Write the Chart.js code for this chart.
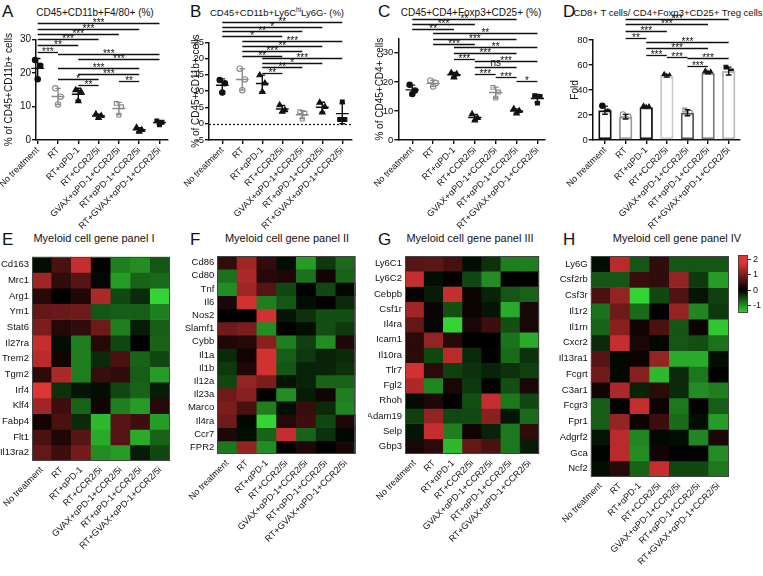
<!DOCTYPE html>
<html><head><meta charset="utf-8">
<script src="https://cdn.jsdelivr.net/npm/chart.js@4.4.1/dist/chart.umd.min.js"></script>
<style>
html,body{margin:0;padding:0;background:#fff;}
body{width:763px;height:576px;position:relative;overflow:hidden;font-family:'Liberation Sans',Arial,sans-serif;color:#111;}
canvas{position:absolute;}
.lt{position:absolute;font-size:17px;line-height:17px;}
.tt{position:absolute;white-space:nowrap;width:240px;margin-left:-120px;text-align:center;line-height:1;}
.tt sup{font-size:6.5px;vertical-align:4px;line-height:0;}
</style></head>
<body>
<div class="lt" style="left:2px;top:3px">A</div>
<div class="lt" style="left:190px;top:3px">B</div>
<div class="lt" style="left:378px;top:3px">C</div>
<div class="lt" style="left:563px;top:3px">D</div>
<div class="lt" style="left:2px;top:231px">E</div>
<div class="lt" style="left:190px;top:231px">F</div>
<div class="lt" style="left:378px;top:231px">G</div>
<div class="lt" style="left:563px;top:231px">H</div>

<div class="tt" style="left:95px;top:8px;font-size:10px">CD45+CD11b+F4/80+ (%)</div>
<div class="tt" style="left:277px;top:8px;font-size:9.5px">CD45+CD11b+Ly6C<sup>hi</sup>Ly6G- (%)</div>
<div class="tt" style="left:471px;top:8px;font-size:10px">CD45+CD4+Foxp3+CD25+ (%)</div>
<div class="tt" style="left:668px;top:8px;font-size:9.5px">CD8+ T cells/ CD4+Foxp3+CD25+ Treg cells</div>

<div class="tt" style="left:94px;top:233px;font-size:11px">Myeloid cell gene panel I</div>
<div class="tt" style="left:287px;top:233px;font-size:11px">Myeloid cell gene panel II</div>
<div class="tt" style="left:470px;top:233px;font-size:11px">Myeloid cell gene panel III</div>
<div class="tt" style="left:677px;top:233px;font-size:11px">Myeloid cell gene panel IV</div>

<canvas id="cA" width="190" height="240" style="left:0px;top:0px"></canvas>
<canvas id="cB" width="185" height="240" style="left:175px;top:0px"></canvas>
<canvas id="cC" width="185" height="240" style="left:365px;top:0px"></canvas>
<canvas id="cD" width="208" height="240" style="left:555px;top:0px"></canvas>
<canvas id="cE" width="185" height="326" style="left:0px;top:250px"></canvas>
<canvas id="cF" width="185" height="326" style="left:180px;top:250px"></canvas>
<canvas id="cG" width="180" height="326" style="left:368px;top:250px"></canvas>
<canvas id="cH" width="180" height="326" style="left:553px;top:250px"></canvas>
<canvas id="cBar" width="30" height="70" style="left:733px;top:250px"></canvas>

<script>
// ---------------- DATA ----------------
const groups = ['No treatment','RT','RT+αPD-1','RT+CCR2/5i','GVAX+αPD-1+CCR2/5i','RT+αPD-1+CCR2/5i','RT+GVAX+αPD-1+CCR2/5i'];

// A: CD45+CD11b+F4/80+ (%)
const f480Values = [[23.8,22.1,18.1],[15.4,12.9,10.6],[14.9,14.4,11.6],[7.7,7.2,6.6],[10.9,9.9,7.4],[3.7,3.0,2.5],[5.7,5.3,4.5]];
const f480Ticks = [0,10,20,30];
const f480Sig = [[0,6,35.0,'***'],[0,5,33.0,'***'],[0,4,31.5,'***'],[0,3,30.0,'***'],[0,2,28.3,'**'],[0,1,26.3,'***'],[1,6,25.6,'***'],[2,6,24.0,'***'],[1,5,21.5,'***'],[2,5,19.6,'***'],[1,3,18.1,'*'],[4,5,17.6,'**'],[2,3,16.4,'**']];

// B: CD45+CD11b+Ly6Chi Ly6G- (%)
const ly6cValues = [[13.4,12.4,9.6],[16.9,13.6,10.3],[14.9,12.4,9.8],[5.7,4.2,3.7],[3.7,3.2,1.4],[6.5,5.2,3.5],[1.3,1.3,6.7]];
const ly6cTicks = [-5,0,5,10,15,20,25];
const ly6cSig = [[0,6,31.2,'**'],[0,5,29.7,'*'],[0,4,28.4,'**'],[0,3,26.9,'*'],[1,6,25.4,'***'],[1,5,23.9,'**'],[1,4,22.3,'***'],[1,3,20.8,'**'],[2,6,20.3,'***'],[2,5,18.7,'*'],[2,4,17.3,'**'],[2,3,15.7,'**']];

// C: CD45+CD4+Foxp3+CD25+ (%)
const tregValues = [[19.0,17.0,15.8],[20.5,19.6,18.4],[23.1,22.7,21.6],[8.9,7.6,6.8],[18.1,16.5,14.4],[10.7,10.0,9.2],[15.2,15.0,12.7]];
const tregTicks = [0,10,20,30];
const tregSig = [[0,5,41.8,'**'],[0,3,40.0,'***'],[0,2,38.1,'**'],[1,6,36.9,'**'],[1,5,34.8,'***'],[1,3,32.9,'***'],[2,6,31.9,'**'],[2,5,30.0,'***'],[2,3,27.9,'***'],[3,6,27.3,'***'],[3,5,25.2,'ns'],[3,4,22.8,'***'],[4,5,21.7,'***'],[5,6,20.2,'*']];

// D: CD8+ T cells / Treg cells (fold)
const foldValues = [[27.5,22.7,21.3],[20.5,18.7,16.8],[26.7,26.2,25.7],[52.0,51.0,50.5],[24.0,22.1,19.2],[54.7,53.9,53.1],[58.3,55.2,52.0]];
const foldTicks = [0,20,40,60,80];
const foldSig = [[1,6,96.6,'***'],[1,5,92.6,'***'],[1,3,87.2,'***'],[1,2,81.8,'**'],[2,6,78.2,'***'],[2,5,73.4,'***'],[2,3,68.0,'***'],[3,4,66.2,'***'],[4,6,65.4,'***'],[4,5,59.4,'***']];

// Heatmaps (z-scores)
const panel1Genes = ['Cd163','Mrc1','Arg1','Ym1','Stat6','Il27ra','Trem2','Tgm2','Irf4','Klf4','Fabp4','Flt1','Il13ra2'];
const panel1Values = [
[-0.1,0.6,1.6,0.05,-0.9,-1.0,-0.6],
[1.3,0.4,0.7,-0.05,-1.1,-0.7,-0.75],
[0.3,0,0.25,1.4,-0.5,-0.3,-1.5],
[0.8,0.85,0.9,-0.6,-0.65,-0.65,-0.9],
[1.0,0.3,0.4,0.9,-0.9,-0.2,-0.65],
[1.6,-0.1,-0.9,0.3,-0.5,0,-0.7],
[1.5,0.15,-0.9,-0.3,0.6,-0.7,-0.5],
[0.35,1.4,-0.9,0.45,0.4,-0.65,-1.1],
[1.8,-0.35,-0.15,-0.1,-0.5,-0.7,-0.2],
[1.3,0.5,-0.7,0.15,-0.9,-1.1,0.3],
[0.15,0.6,-0.3,-1.3,0.7,0.5,-1.1],
[0.6,0.25,0.7,-1.2,0.7,-1.2,-0.7],
[0.8,0.5,0.95,-1.0,-1.1,-0.2,-0.5]];

const panel2Genes = ['Cd86','Cd80','Tnf','Il6','Nos2','Slamf1','Cybb','Il1a','Il1b','Il12a','Il23a','Marco','Il4ra','Ccr7','FPR2'];
const panel2Values = [
[0.4,1.3,0.4,-0.1,-1.1,-0.4,-0.75],
[-0.8,1.4,0.3,0.25,-0.8,0.15,-0.7],
[-1.0,1.3,0.7,-0.5,0,-0.5,-0.05],
[0.2,1.7,-0.9,-0.6,-0.1,0.05,-0.3],
[0,0,1.7,-0.15,-0.35,-0.55,-0.55],
[0.9,1.0,-1.0,0,-0.1,-0.55,-0.4],
[0.25,0.3,1.1,-0.9,-0.45,-1.0,0.25],
[-0.3,0.15,1.7,-0.65,-0.4,-0.25,-0.3],
[-0.4,0.25,1.7,-0.6,-0.25,-0.25,-0.35],
[-0.5,1.2,1.0,-0.15,-0.25,-0.7,-0.7],
[0.9,1.1,0,-1.0,-0.2,0.15,-0.9],
[1.0,0.6,-0.9,-0.1,0.45,-0.3,-0.95],
[0.9,-0.05,-1.5,0.3,0.5,-0.5,0.25],
[0.25,-0.1,-0.7,1.6,-0.7,-0.35,-0.05],
[-0.85,1.2,-1.0,0.05,0.25,0,0.2]];

const panel3Genes = ['Ly6C1','Ly6C2','Cebpb','Csf1r','Il4ra','Icam1','Il10ra','Tlr7','Fgl2','Rhoh','Adam19','Selp','Gbp3'];
const panel3Values = [
[0.7,0.75,0.55,-0.1,-0.35,-0.9,-0.9],
[1.6,-0.1,0.05,-0.5,-1.0,0,0.05],
[0.05,-0.2,1.6,0.1,-0.25,-0.6,-0.7],
[1.3,0.1,-0.55,0.1,-0.15,-1.2,0.2],
[0.8,-0.05,-1.5,0.2,0.5,-0.55,0.2],
[0.35,1.2,0.3,0,0,-0.8,-1.2],
[0.35,-0.5,1.5,-0.3,-0.02,-0.75,-0.35],
[1.7,0.35,-0.45,-0.35,-0.25,-0.35,-0.45],
[1.4,-0.95,0.2,-0.4,-0.02,-0.55,0.2],
[-0.08,0.25,0,-0.55,1.6,-0.85,-0.5],
[-0.45,1.2,-0.5,-0.5,1.1,-0.15,-0.75],
[-0.15,1.6,-0.9,0.15,-0.25,-0.85,0.4],
[0.2,0.35,-1.3,0.8,0.6,-0.85,-0.2]];

const panel4Genes = ['Ly6G','Csf2rb','Csf3r','Il1r2','Il1rn','Cxcr2','Il13ra1','Fcgrt','C3ar1','Fcgr3','Fpr1','Adgrf2','Gca','Ncf2'];
const panel4Values = [
[-0.1,1.5,-0.6,0.4,-0.6,-0.6,-0.6],
[-0.6,-0.6,0.45,0.4,1.2,-0.4,-1.1],
[0.6,1.2,-1.5,-0.5,0.65,-0.15,-0.45],
[-0.8,0.9,-0.75,0,1.2,-0.95,-0.4],
[-0.7,1.1,0.15,0.6,-0.6,0.1,-1.4],
[-0.3,1.6,0.2,-0.05,-0.6,-0.55,-0.8],
[0.7,-0.05,0.1,1.2,-1.2,-1.2,-0.1],
[0.9,-0.05,1.1,-1.3,-0.3,-0.85,0],
[0.15,1.4,-0.25,0.35,-0.3,-1.0,-0.9],
[-0.65,0,1.6,0.1,-0.85,0.05,-0.65],
[-0.65,1.2,0.1,0.5,-0.75,-0.1,-1.1],
[-0.15,1.5,-0.95,-0.05,-0.1,-0.95,0.2],
[-0.02,1.5,-1.0,0.15,0.02,-0.02,-1.0],
[-0.1,0.3,-0.7,1.6,-0.5,-0.5,-0.85]];

const colorbarRange = [-1.5, 2.3];
const colorbarTicks = [-1,0,1,2];

// ---------------- STYLE ----------------
const FONT = "'Liberation Sans', Arial, sans-serif";
Chart.defaults.font.family = FONT;
Chart.defaults.color = '#111';

const groupMarker = ['circle','circle','triangle','triangle','rect','triangle','rect'];
const groupOpen = [false,true,false,false,true,false,false];
const groupColor = ['#111','#8a8a8a','#111','#111','#8a8a8a','#111','#111'];
const barEdge = ['#111','#9a9a9a','#222','#cacaca','#5a5a5a','#7a7a7a','#b8b8b8'];
const jitter = [-0.13, 0.13, 0];

const mean = a => a.reduce((s, v) => s + v, 0) / a.length;
const stdev = a => { const m = mean(a); return Math.sqrt(a.reduce((s, v) => s + (v - m) * (v - m), 0) / (a.length - 1)); };

function heatColor(v) {
  if (v >= 0) { const t = Math.min(v / 1.8, 1); return `rgb(${Math.round(222*t)},${Math.round(52*t)},${Math.round(52*t)})`; }
  const t = Math.min(-v / 1.5, 1); return `rgb(${Math.round(52*t)},${Math.round(212*t)},${Math.round(52*t)})`;
}

function prismPlugin(cfg) {
  return {
    id: 'prism' + cfg.id,
    beforeDatasetsDraw(chart) {
      if (!cfg.zeroLine) return;
      const {ctx, chartArea: a, scales: {y}} = chart;
      const yy = Math.round(y.getPixelForValue(0)) + 0.5;
      ctx.save(); ctx.strokeStyle = '#111'; ctx.lineWidth = 1.2; ctx.setLineDash([2, 2]);
      ctx.beginPath(); ctx.moveTo(a.left, yy); ctx.lineTo(a.right, yy); ctx.stroke(); ctx.restore();
    },
    afterDatasetsDraw(chart) {
      const {ctx, scales: {x, y}} = chart;
      ctx.save();
      cfg.values.forEach((vals, i) => {
        const m = mean(vals), s = stdev(vals);
        const cx = x.getPixelForValue(i);
        const hw = x.getPixelForValue(i + 0.32) - cx;
        const cw = x.getPixelForValue(i + 0.14) - cx;
        const ym = y.getPixelForValue(m), yt = y.getPixelForValue(m + s), yb = y.getPixelForValue(m - s);
        ctx.strokeStyle = cfg.bars ? '#111' : groupColor[i];
        ctx.lineWidth = 1.4;
        ctx.beginPath();
        if (!cfg.bars) { ctx.moveTo(cx - hw, ym); ctx.lineTo(cx + hw, ym); }
        ctx.moveTo(cx, yt); ctx.lineTo(cx, yb);
        ctx.moveTo(cx - cw, yt); ctx.lineTo(cx + cw, yt);
        ctx.moveTo(cx - cw, yb); ctx.lineTo(cx + cw, yb);
        ctx.stroke();
      });
      ctx.strokeStyle = '#111'; ctx.fillStyle = '#111'; ctx.lineWidth = 1.3;
      ctx.font = '10px ' + FONT; ctx.textAlign = 'center'; ctx.textBaseline = 'alphabetic';
      cfg.sig.forEach(([a, b, v, lab]) => {
        const yy = Math.round(y.getPixelForValue(v)) + 0.5;
        const x1 = x.getPixelForValue(a), x2 = x.getPixelForValue(b);
        ctx.beginPath(); ctx.moveTo(x1, yy); ctx.lineTo(x2, yy); ctx.stroke();
        ctx.fillText(lab, (x1 + x2) / 2, lab.includes('*') ? yy + 2.8 : yy - 1.5);
      });
      ctx.restore();
    }
  };
}

function dotPanel(cfg) {
  const ds = cfg.values.map((vals, i) => ({
    type: 'scatter', clip: false,
    data: vals.map((v, j) => ({x: i + jitter[j], y: v})),
    pointStyle: groupMarker[i],
    pointRadius: groupMarker[i] === 'triangle' ? 3.2 : 2.7,
    pointBackgroundColor: groupOpen[i] ? '#fff' : groupColor[i],
    pointBorderColor: groupColor[i],
    pointBorderWidth: 1.1,
    showLine: false
  }));
  if (cfg.bars) ds.unshift({
    type: 'bar',
    data: cfg.values.map((v, i) => ({x: i, y: mean(v)})),
    backgroundColor: '#fff', borderColor: barEdge, borderWidth: 2, borderSkipped: false,
    barPercentage: 0.65, categoryPercentage: 1
  });
  return new Chart(document.getElementById(cfg.id), {
    type: cfg.bars ? 'bar' : 'scatter',
    data: {datasets: ds},
    options: {
      responsive: false, animation: false, events: [],
      layout: {padding: {top: cfg.padTop, right: cfg.padRight, left: cfg.padLeft, bottom: 0}},
      plugins: {legend: {display: false}, tooltip: {enabled: false}},
      scales: {
        x: {
          type: 'linear', min: cfg.xMin, max: cfg.xMax, offset: false,
          afterBuildTicks: s => { s.ticks = groups.map((g, i) => ({value: i})); },
          afterFit: s => { s.height = 100; s.paddingLeft = 0; s.paddingRight = 0; },
          ticks: {autoSkip: false, minRotation: 45, maxRotation: 45, padding: 1, font: {size: 9}, callback: (v, i) => groups[i]},
          grid: {display: true, offset: false, drawOnChartArea: false, drawTicks: true, tickLength: 4, color: '#111', lineWidth: 1.4},
          border: {display: true, color: '#111', width: 1.5}
        },
        y: {
          type: 'linear', min: cfg.ticks[0], max: cfg.yMax,
          afterBuildTicks: s => { s.ticks = cfg.ticks.map(v => ({value: v})); },
          afterFit: s => { s.width = cfg.yWidth; s.paddingTop = 0; s.paddingBottom = 0; },
          title: {display: true, text: cfg.yTitle, color: '#111', font: {size: 10}, padding: {top: 0, bottom: 0}},
          ticks: {padding: 1, font: {size: cfg.tickSize || 10}, color: '#111', autoSkip: false, callback: (v, i) => String(cfg.ticks[i])},
          grid: {display: true, drawOnChartArea: false, drawTicks: true, tickLength: 4, color: '#111', lineWidth: 1.4},
          border: {display: true, color: '#111', width: 1.5}
        }
      }
    },
    plugins: [prismPlugin(cfg)]
  });
}

const framePlugin = {
  id: 'frame',
  afterDatasetsDraw(chart) {
    const {ctx, chartArea: a} = chart;
    ctx.save(); ctx.strokeStyle = '#444'; ctx.lineWidth = 1;
    ctx.strokeRect(Math.round(a.left) + 0.5, Math.round(a.top) + 0.5, Math.round(a.right - a.left) - 1, Math.round(a.bottom - a.top) - 1);
    ctx.restore();
  }
};

function heatPanel(id, genes, values, g) {
  return new Chart(document.getElementById(id), {
    type: 'bar',
    data: {
      labels: groups,
      datasets: genes.map((gn, r) => ({
        label: gn,
        data: groups.map(() => 1),
        backgroundColor: values[r].map(heatColor),
        borderWidth: 0, barPercentage: 1, categoryPercentage: 1
      }))
    },
    options: {
      responsive: false, animation: false, events: [],
      layout: {padding: {top: g.padTop, right: g.padRight, left: 0, bottom: 0}},
      plugins: {legend: {display: false}, tooltip: {enabled: false}},
      scales: {
        x: {
          stacked: true,
          afterFit: s => { s.height = g.xHeight; s.paddingLeft = 0; s.paddingRight = 0; },
          ticks: {autoSkip: false, minRotation: 45, maxRotation: 45, padding: 4, font: {size: 9}},
          grid: {display: false, drawTicks: false}, border: {display: false}
        },
        y: {
          stacked: true, reverse: true, min: 0, max: genes.length,
          afterBuildTicks: s => { s.ticks = genes.map((_, i) => ({value: i + 0.5})); },
          afterFit: s => { s.width = g.yWidth; s.paddingTop = 0; s.paddingBottom = 0; },
          ticks: {autoSkip: false, padding: 3, font: {size: 9.5}, callback: (v, i) => genes[i]},
          grid: {display: false, drawTicks: false}, border: {display: false}
        }
      }
    },
    plugins: [framePlugin]
  });
}

// ---------------- CHARTS ----------------
dotPanel({id: 'cA', values: f480Values, ticks: f480Ticks, sig: f480Sig, yTitle: '% of CD45+CD11b+ cells', yMax: 30, padLeft: 3, yWidth: 33, padTop: 39.3, padRight: 22, xMin: -0.083, xMax: 6.42});
dotPanel({id: 'cB', values: ly6cValues, ticks: ly6cTicks, sig: ly6cSig, yTitle: '% of CD45+CD11b+ cells', yMax: 25, padLeft: 15, yWidth: 19, padTop: 42.3, padRight: 8, xMin: -0.665, xMax: 6.485, zeroLine: true, tickSize: 9.5});
dotPanel({id: 'cC', values: tregValues, ticks: tregTicks, sig: tregSig, yTitle: '% of CD45+CD4+ cells', yMax: 35, padLeft: 9, yWidth: 24.3, padTop: 38.3, padRight: 5, xMin: -0.671, xMax: 6.36, tickSize: 9.5});
dotPanel({id: 'cD', values: foldValues, ticks: foldTicks, sig: foldSig, yTitle: 'Fold', yMax: 80, padLeft: 14, yWidth: 23.7, padTop: 40, padRight: 23, xMin: -0.597, xMax: 6.55, bars: true, tickSize: 9.5});

heatPanel('cE', panel1Genes, panel1Values, {padTop: 6.7, padRight: 15, xHeight: 115.3, yWidth: 32});
heatPanel('cF', panel2Genes, panel2Values, {padTop: 6, padRight: 9.3, xHeight: 122, yWidth: 37.3});
heatPanel('cG', panel3Genes, panel3Values, {padTop: 6, padRight: 8.7, xHeight: 122, yWidth: 37});
heatPanel('cH', panel4Genes, panel4Values, {padTop: 6, padRight: 4.7, xHeight: 99.3, yWidth: 37.7});

// colour scale
new Chart(document.getElementById('cBar'), {
  type: 'bar',
  data: {labels: [''], datasets: [{
    data: [[colorbarRange[0], colorbarRange[1]]],
    backgroundColor: (c) => {
      const ch = c.chart; const a = ch.chartArea;
      if (!a) return '#000';
      const y = ch.scales.y;
      const top = y.getPixelForValue(colorbarRange[1]), bot = y.getPixelForValue(colorbarRange[0]);
      const gr = ch.ctx.createLinearGradient(0, top, 0, bot);
      for (let k = 0; k <= 30; k++) {
        const v = colorbarRange[1] - (colorbarRange[1] - colorbarRange[0]) * k / 30;
        gr.addColorStop(k / 30, heatColor(v));
      }
      return gr;
    },
    borderColor: '#333', borderWidth: 1, borderSkipped: false,
    barPercentage: 1, categoryPercentage: 1
  }]},
  options: {
    responsive: false, animation: false, events: [],
    layout: {padding: {left: 5, top: 5, bottom: 7, right: 0}},
    plugins: {legend: {display: false}, tooltip: {enabled: false}},
    scales: {
      x: {display: false},
      y: {
        position: 'right', min: colorbarRange[0], max: colorbarRange[1],
        afterBuildTicks: s => { s.ticks = colorbarTicks.map(v => ({value: v})); },
        afterFit: s => { s.width = 15; s.paddingTop = 0; s.paddingBottom = 0; },
        ticks: {padding: 2, font: {size: 9}},
        grid: {display: true, drawOnChartArea: false, drawTicks: true, tickLength: 3, color: '#333'},
        border: {display: false}
      }
    }
  }
});
</script>
</body></html>
